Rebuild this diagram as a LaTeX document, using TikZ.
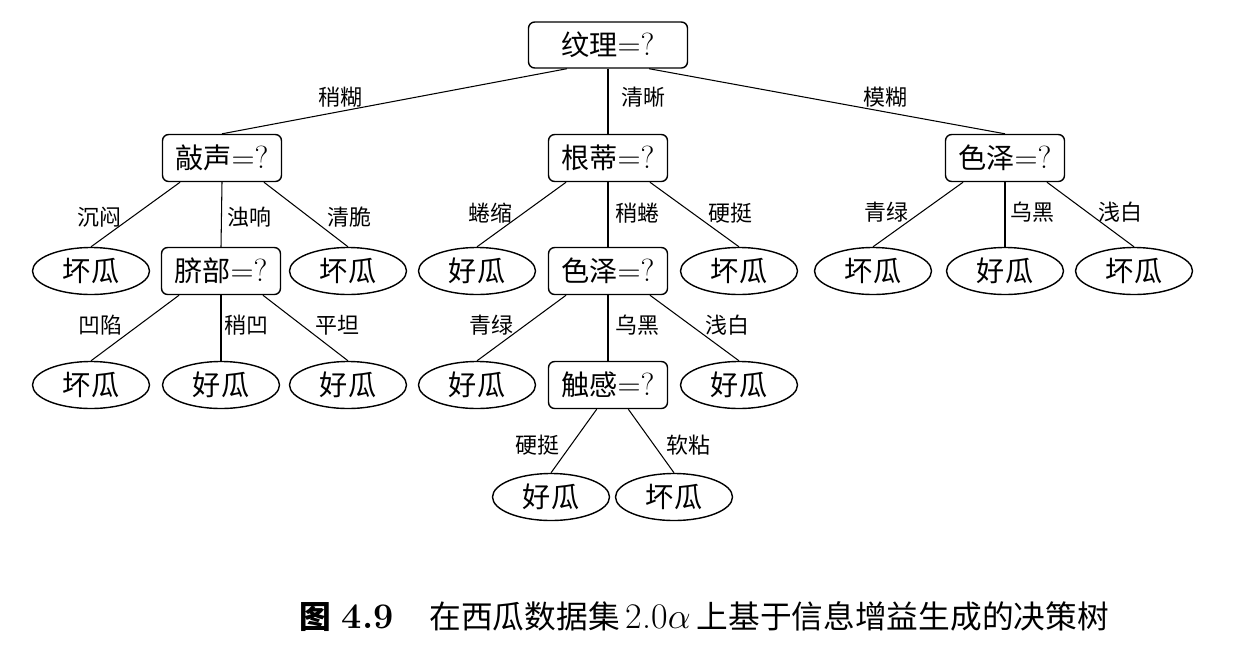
\documentclass[tikz,border=0pt]{standalone}
\usepackage{fontspec}
\usepackage{tikz}
\usetikzlibrary{shapes.geometric}
\newfontfamily\zh[Scale=0.88]{Noto Sans CJK SC}

\tikzset{
    test/.style={draw, line width=0.8pt, rounded corners=3.5pt, inner sep=0pt,
        minimum width=2.38cm, minimum height=0.94cm,
        font=\fontsize{18.2}{20}\selectfont},
    leaf/.style={draw, ellipse, line width=0.8pt, inner sep=0pt,
        minimum width=2.34cm, minimum height=0.94cm,
        font=\zh\fontsize{18.2}{20}\selectfont},
    lbl/.style={inner sep=1pt, font=\zh\fontsize{14.2}{16}\selectfont},
    edge/.style={line width=0.6pt}
}

\begin{document}
\begin{tikzpicture}[x=0.02cm, y=-0.02cm]
    \useasboundingbox (0,0) rectangle (1256,646);

    % root
    \node[test, minimum width=3.18cm, minimum height=0.92cm] (wl) at (608,45) {{\zh 纹理}=?};

    % level 1
    \node[test] (qs) at (222,158) {{\zh 敲声}=?};
    \node[test] (gd) at (608,158) {{\zh 根蒂}=?};
    \node[test] (sz) at (1005,158) {{\zh 色泽}=?};

    % level 2
    \node[leaf] (qsA) at (91,271) {坏瓜};
    \node[test] (qb) at (221,271) {{\zh 脐部}=?};
    \node[leaf] (qsC) at (348,271) {坏瓜};
    \node[leaf] (gdA) at (477,271) {好瓜};
    \node[test] (szB) at (608,271) {{\zh 色泽}=?};
    \node[leaf] (gdC) at (739,271) {坏瓜};
    \node[leaf] (szA) at (873,271) {坏瓜};
    \node[leaf] (szM) at (1005,271) {好瓜};
    \node[leaf] (szC) at (1134,271) {坏瓜};

    % level 3
    \node[leaf] (qbA) at (91,385) {坏瓜};
    \node[leaf] (qbB) at (221,385) {好瓜};
    \node[leaf] (qbC) at (348,385) {好瓜};
    \node[leaf] (szBA) at (477,385) {好瓜};
    \node[test] (cg) at (608,385) {{\zh 触感}=?};
    \node[leaf] (szBC) at (739,385) {好瓜};

    % level 4
    \node[leaf] (cgA) at (551,497) {好瓜};
    \node[leaf] (cgB) at (674,497) {坏瓜};

    % connectors
    \draw[edge] (wl.-150) -- (qs.north);
    \draw[edge] (wl.south) -- (gd.north);
    \draw[edge] (wl.-30) -- (sz.north);
    \draw[edge] (qs.-150) -- (qsA.north);
    \draw[edge] (qs.south) -- (qb.north);
    \draw[edge] (qs.-30) -- (qsC.north);
    \draw[edge] (gd.-150) -- (gdA.north);
    \draw[edge] (gd.south) -- (szB.north);
    \draw[edge] (gd.-30) -- (gdC.north);
    \draw[edge] (sz.-150) -- (szA.north);
    \draw[edge] (sz.south) -- (szM.north);
    \draw[edge] (sz.-30) -- (szC.north);
    \draw[edge] (qb.-150) -- (qbA.north);
    \draw[edge] (qb.south) -- (qbB.north);
    \draw[edge] (qb.-30) -- (qbC.north);
    \draw[edge] (szB.-150) -- (szBA.north);
    \draw[edge] (szB.south) -- (cg.north);
    \draw[edge] (szB.-30) -- (szBC.north);
    \draw[edge] (cg.-115) -- (cgA.north);
    \draw[edge] (cg.-50) -- (cgB.north);

    % edge labels
    \node[lbl] (t1) at (340,97) {稍糊};
    \node[lbl] (t2) at (643,97) {清晰};
    \node[lbl] (t3) at (885,97) {模糊};
    \node[lbl] (t4) at (99,217) {沉闷};
    \node[lbl] (t5) at (249,217) {浊响};
    \node[lbl] (t6) at (349,217) {清脆};
    \node[lbl] (t7) at (490,213) {蜷缩};
    \node[lbl] (t8) at (637,213) {稍蜷};
    \node[lbl] (t9) at (730,213) {硬挺};
    \node[lbl] (t10) at (886,212) {青绿};
    \node[lbl] (t11) at (1032,212) {乌黑};
    \node[lbl] (t12) at (1120,212) {浅白};
    \node[lbl] (t13) at (100,325) {凹陷};
    \node[lbl] (t14) at (246,325) {稍凹};
    \node[lbl] (t15) at (337,325) {平坦};
    \node[lbl] (t16) at (491,325) {青绿};
    \node[lbl] (t17) at (637,325) {乌黑};
    \node[lbl] (t18) at (727,325) {浅白};
    \node[lbl] (t19) at (537,445) {硬挺};
    \node[lbl] (t20) at (688,445) {软粘};

    % caption
    \node[font=\fontsize{20.5}{22}\selectfont] (cap) at (704,617)
        {{\zh\bfseries 图}~\textbf{4.9}\hspace{1em}{\zh 在西瓜数据集}\,2.0$\alpha$\,{\zh 上基于信息增益生成的决策树}};
\end{tikzpicture}
\end{document}
